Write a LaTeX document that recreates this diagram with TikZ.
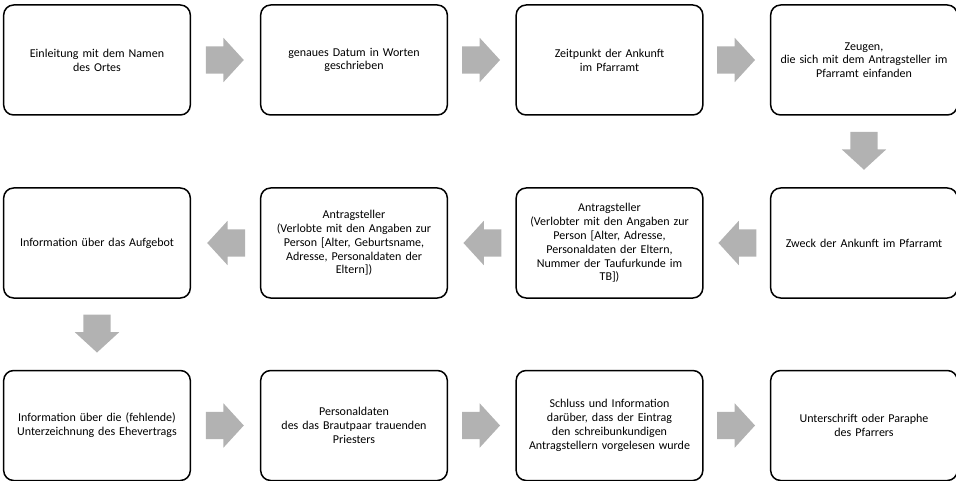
\documentclass[tikz,border=0pt]{standalone}
\usepackage{fontspec}
\setmainfont{Carlito}
\usepackage{tikz}
\usetikzlibrary{calc,shapes.arrows}

\tikzset{
  kasten/.style={draw,line width=1.5pt,rounded corners=10pt,minimum width=183pt,
    minimum height=110pt,text width=180pt,align=center,
    font=\fontsize{12}{13.8}\selectfont},
  pfeil/.style={single arrow,draw=none,fill=black!30,inner xsep=0pt,inner ysep=13.5pt,
    minimum height=38pt,single arrow head extend=8.5pt,single arrow tip angle=95}
}

\begin{document}
\begin{tikzpicture}[x=1pt,y=-1pt]
  \useasboundingbox (0,0) rectangle (956,481);
  \node[kasten](k1)at(97,60){Einleitung mit dem Namen\\des Ortes};
  \node[kasten](k2)at(354,60){genaues Datum in Worten\\geschrieben};
  \node[kasten](k3)at(609.5,60){Zeitpunkt der Ankunft\\im Pfarramt};
  \node[kasten](k4)at(864,60){Zeugen,\\die sich mit dem Antragsteller im\\Pfarramt einfanden};
  \node[kasten](k5)at(864,243){Zweck der Ankunft im Pfarramt};
  \node[kasten](k6)at(609.5,243){Antragsteller\\(Verlobter mit den Angaben zur\\Person [Alter, Adresse,\\Personaldaten der Eltern,\\Nummer der Taufurkunde im\\TB])};
  \node[kasten](k7)at(354,243){Antragsteller\\(Verlobte mit den Angaben zur\\Person [Alter, Geburtsname,\\Adresse, Personaldaten der\\Eltern])};
  \node[kasten](k8)at(97,243){Information über das Aufgebot};
  \node[kasten](k9)at(97,425.5){Information über die (fehlende)\\Unterzeichnung des Ehevertrags};
  \node[kasten](k10)at(354,425.5){Personaldaten\\des das Brautpaar trauenden\\Priesters};
  \node[kasten](k11)at(609.5,425.5){Schluss und Information\\darüber, dass der Eintrag\\den schreibunkundigen\\Antragstellern vorgelesen wurde};
  \node[kasten](k12)at(864,425.5){Unterschrift oder Paraphe\\des Pfarrers};

  \node[pfeil](p1)at($(k1)!0.5!(k2)+(-7,0)$){};
  \node[pfeil](p2)at($(k2)!0.5!(k3)+(-7,0)$){};
  \node[pfeil](p3)at($(k3)!0.5!(k4)+(-7,0)$){};
  \node[pfeil,rotate=-90](p4)at($(k4)!0.5!(k5)+(0,-7)$){};
  \node[pfeil,rotate=180](p5)at($(k5)!0.5!(k6)+(7,0)$){};
  \node[pfeil,rotate=180](p6)at($(k6)!0.5!(k7)+(7,0)$){};
  \node[pfeil,rotate=180](p7)at($(k7)!0.5!(k8)+(7,0)$){};
  \node[pfeil,rotate=-90](p8)at($(k8)!0.5!(k9)+(0,-7)$){};
  \node[pfeil](p9)at($(k9)!0.5!(k10)+(-7,0)$){};
  \node[pfeil](p10)at($(k10)!0.5!(k11)+(-7,0)$){};
  \node[pfeil](p11)at($(k11)!0.5!(k12)+(-7,0)$){};
\end{tikzpicture}
\end{document}
